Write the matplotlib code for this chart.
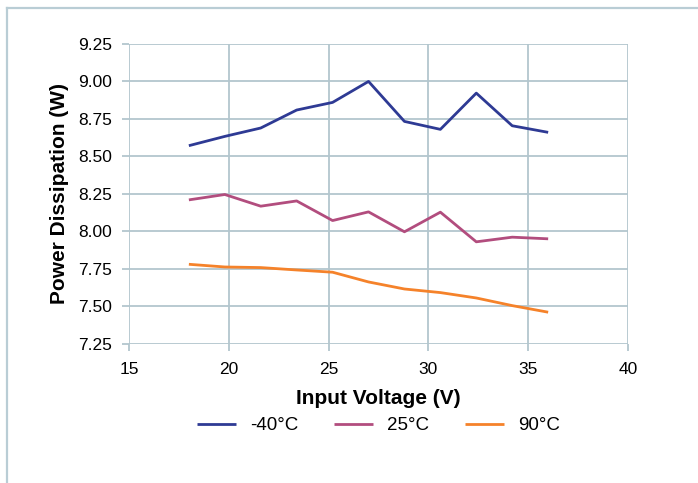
import matplotlib
matplotlib.use("Agg")
import matplotlib.pyplot as plt
from matplotlib.lines import Line2D

plt.rcParams['font.family'] = ['Liberation Sans', 'DejaVu Sans']

voltage = [18, 19.8, 21.6, 23.4, 25.2, 27, 28.8, 30.6, 32.4, 34.2, 36]
p_m40 = [8.571, 8.633, 8.689, 8.809, 8.860, 9.000, 8.733, 8.680, 8.922, 8.704, 8.660]
p_25 = [8.209, 8.245, 8.167, 8.202, 8.071, 8.129, 7.996, 8.127, 7.929, 7.960, 7.949]
p_90 = [7.779, 7.761, 7.757, 7.741, 7.726, 7.661, 7.614, 7.590, 7.554, 7.503, 7.459]
series_labels = ['-40°C', '25°C', '90°C']
colors = ['#2e3a94', '#b24d7e', '#f5822a']
x_ticks = [15, 20, 25, 30, 35, 40]
y_ticks = [7.25, 7.50, 7.75, 8.00, 8.25, 8.50, 8.75, 9.00, 9.25]

W, H = 698, 483
fig = plt.figure(figsize=(W / 100, H / 100), dpi=100)
fig.patch.set_facecolor('white')

# outer frame (left and top)
frame_c = '#b9cdd5'
fig.add_artist(Line2D([7.5 / W, 7.5 / W], [0, 1 - 8 / H], color=frame_c, lw=1.6))
fig.add_artist(Line2D([7 / W, 1], [1 - 8 / H, 1 - 8 / H], color=frame_c, lw=1.6))

ax = fig.add_axes([129 / W, 1 - 343.5 / H, (628 - 129) / W, (343.5 - 44) / H])
grid_c = '#b3c6ce'
for yv in y_ticks:
    ax.axhline(yv, color=grid_c, lw=1.3, zorder=0)
for xv in x_ticks:
    ax.axvline(xv, color=grid_c, lw=1.3, zorder=0)

for vals, lab, c in zip([p_m40, p_25, p_90], series_labels, colors):
    ax.plot(voltage, vals, color=c, lw=2.0, label=lab, solid_capstyle='butt', zorder=3)

ax.set_xlim(15, 40)
ax.set_ylim(7.25, 9.25)
ax.set_xticks(x_ticks)
ax.set_yticks(y_ticks)
ax.set_yticklabels([f'{v:.2f}' for v in y_ticks])
for s in ax.spines.values():
    s.set_visible(False)
ax.tick_params(axis='both', colors=grid_c, length=5, width=1.3, labelcolor='black', labelsize=12.5)
ax.tick_params(axis='x', pad=8)
ax.tick_params(axis='y', pad=7)

ax.set_xlabel('Input Voltage (V)', fontsize=15, fontweight='bold', labelpad=9)
ax.set_ylabel('Power Dissipation (W)', fontsize=15, fontweight='bold', labelpad=7)

ax.legend(loc='upper center', bbox_to_anchor=(0.5, -0.19), ncol=3, frameon=False,
          fontsize=13.5, handlelength=2.1, handletextpad=0.75, columnspacing=1.9)

fig.savefig('out.png', dpi=100, facecolor='white')
